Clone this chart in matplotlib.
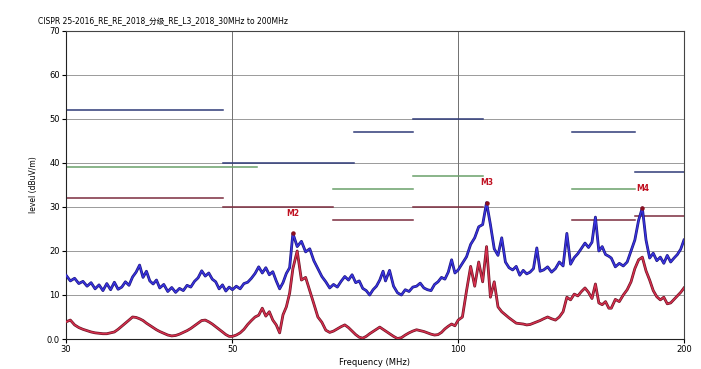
import matplotlib
matplotlib.use("Agg")
import matplotlib.pyplot as plt
from matplotlib.ticker import FixedLocator, NullLocator

plt.rcParams["font.family"] = ["DejaVu Sans", "Noto Sans CJK SC"]

title = "CISPR 25-2016_RE_RE_2018_分级_RE_L3_2018_30MHz to 200MHz"

# Messfrequenzen (MHz)
trace_freq = [
    30.0, 30.4, 30.8, 31.2, 31.6, 32.0, 32.4, 32.8, 33.2, 33.6, 34.0, 34.4, 34.8,
    35.2, 35.6, 36.0, 36.4, 36.8, 37.2, 37.6, 38.0, 38.4, 38.8, 39.2, 39.6,
    40.0, 40.5, 41.0, 41.5, 42.0, 42.5, 43.0, 43.5, 44.0, 44.5, 45.0, 45.5,
    46.0, 46.5, 47.0, 47.5, 48.0, 48.5, 49.0, 49.5,
    50.0, 50.6, 51.2, 51.8, 52.4, 53.0, 53.6, 54.2, 54.8, 55.4, 56.0, 56.6,
    57.2, 57.8, 58.4, 59.0, 59.6,
    60.2, 61.0, 61.8, 62.6, 63.4, 64.2, 65.0, 65.8, 66.6, 67.4, 68.2, 69.0,
    69.8, 70.6, 71.4, 72.2, 73.0, 73.8, 74.6, 75.4, 76.2, 77.0, 77.8, 78.6, 79.4,
    80, 81, 82, 83, 84, 85, 86, 87, 88, 89, 90, 91, 92, 93, 94, 95, 96, 97, 98, 99,
    100.0, 101.3, 102.6, 103.9, 105.2, 106.5, 107.8, 109.1, 110.4, 111.7, 113.0,
    114.3, 115.6, 116.9, 118.2, 119.5, 120.8, 122.1, 123.4, 124.7, 126.0, 127.3, 128.6,
    130.0, 131.6, 133.2, 134.8, 136.4, 138.0, 139.6, 141.2, 142.8, 144.4, 146.0,
    147.6, 149.2, 150.8, 152.4, 154.0, 155.6, 157.2, 158.8,
    160, 162, 164, 166, 168, 170, 172, 174, 176, 178, 180, 182, 184, 186, 188,
    190, 192, 194, 196, 198, 200,
]

# Peak (blau)
peak_level = [
    14.5, 13.2, 13.8, 12.6, 13.1, 12.0, 12.8, 11.4, 12.3, 11.0, 12.6, 11.2, 12.9,
    11.3, 11.8, 13.0, 12.2, 14.1, 15.2, 16.8, 14.0, 15.4, 13.2, 12.5, 13.4,
    11.6, 12.4, 10.8, 11.7, 10.6, 11.5, 11.0, 12.2, 11.8, 13.1, 13.9, 15.5,
    14.3, 15.0, 13.6, 13.0, 11.4, 12.3, 10.9, 11.8,
    11.2, 12.0, 11.4, 12.6, 12.9, 13.8, 14.9, 16.4, 15.0, 16.2, 14.6, 15.3,
    13.2, 11.4, 12.8, 14.9, 16.2,
    24.0, 21.0, 22.2, 19.8, 20.5, 17.8, 16.0, 14.2, 13.0, 11.6, 12.4, 11.8,
    13.1, 14.2, 13.4, 14.6, 12.8, 13.2, 11.5, 11.0, 10.0, 11.2, 12.0, 13.4, 15.4,
    13.2, 15.6, 12.0, 10.5, 10.0, 11.2, 10.8, 11.8, 12.0, 12.7, 11.6, 11.2, 11.0,
    12.4, 13.0, 14.0, 13.6, 15.2, 18.0, 15.0,
    15.7, 17.2, 18.7, 21.5, 23.0, 25.5, 26.0, 31.0, 26.0, 20.5, 19.0,
    23.0, 17.5, 16.2, 15.7, 16.5, 14.5, 15.6, 14.8, 15.2, 16.0, 20.7, 15.4,
    15.7, 16.4, 15.2, 16.0, 17.5, 16.6, 24.0, 17.0, 18.5, 19.4, 20.6,
    21.8, 20.8, 22.0, 27.7, 20.0, 21.0, 19.2, 18.8,
    18.4, 16.4, 17.2, 16.6, 17.5, 20.0, 22.5, 27.0, 29.8, 22.5, 18.4, 19.5, 17.8,
    18.6, 17.2, 19.0, 17.5, 18.4, 19.2, 20.4, 22.5,
]

# Average (rot)
avg_level = [
    3.9, 4.3, 3.2, 2.6, 2.2, 1.9, 1.6, 1.4, 1.3, 1.2, 1.2, 1.4, 1.6,
    2.2, 2.9, 3.6, 4.3, 5.0, 4.9, 4.6, 4.2, 3.6, 3.1, 2.6, 2.1,
    1.7, 1.3, 0.9, 0.7, 0.8, 1.1, 1.5, 1.9, 2.4, 3.0, 3.6, 4.2,
    4.3, 3.9, 3.4, 2.8, 2.2, 1.6, 1.0, 0.6,
    0.6, 0.9, 1.4, 2.2, 3.3, 4.2, 5.0, 5.4, 7.0, 5.2, 6.2, 4.3,
    3.2, 1.4, 5.5, 7.3, 10.4,
    16.0, 20.0, 13.4, 14.0, 11.0, 8.0, 5.0, 3.8, 2.0, 1.5, 1.8, 2.3,
    2.8, 3.2, 2.6, 1.8, 1.0, 0.4, 0.2, 0.6, 1.2, 1.7, 2.2, 2.7, 2.2,
    1.8, 1.2, 0.6, 0.1, 0.3, 0.9, 1.4, 1.8, 2.1, 1.9, 1.7, 1.4, 1.1,
    0.9, 1.0, 1.5, 2.3, 2.9, 3.4, 3.0,
    4.3, 5.0, 11.0, 16.5, 12.0, 17.5, 13.0, 21.0, 9.5, 13.0, 7.3,
    6.2, 5.5, 4.8, 4.2, 3.6, 3.5, 3.4, 3.2, 3.3, 3.6, 3.9, 4.2,
    4.6, 5.0, 4.6, 4.3, 5.0, 6.2, 9.5, 8.9, 10.2, 9.8, 10.8,
    11.6, 10.6, 9.2, 12.5, 8.2, 7.8, 8.5, 7.0,
    7.0, 9.0, 8.5, 10.0, 11.2, 13.0, 16.0, 18.0, 18.6, 15.5, 13.4, 11.0, 9.6,
    8.9, 9.5, 8.0, 8.2, 9.0, 9.8, 10.6, 11.6,
]

# Grenzwerte: (f_start, f_stop, Pegel)
limit_peak = [(30, 48.6, 52), (48.6, 72.6, 40), (72.6, 87, 47), (87, 108, 50),
              (142, 172, 47), (172, 200, 38)]
limit_qp = [(30, 54, 39), (68, 87, 34), (87, 108, 37), (142, 172, 34)]
limit_avg = [(30, 48.6, 32), (48.6, 68, 30), (68, 87, 27), (87, 108, 30),
             (142, 172, 27), (172, 200, 28)]

markers = ["M2", "M3", "M4"]
marker_freq = [60.2, 109.1, 176]
marker_level = [24.0, 31.0, 29.8]

fig = plt.figure(figsize=(7.01, 3.69), dpi=100)
ax = fig.add_axes([0.0942, 0.0813, 0.8815, 0.8347])

ax.set_xscale("log")
ax.set_xlim(30, 200)
ax.set_ylim(0, 70)

for y in range(10, 70, 10):
    ax.axhline(y, color="#9a9a9a", lw=0.7, zorder=0)
for x in (50, 100):
    ax.axvline(x, color="#707070", lw=0.7, zorder=0)

for f0, f1, lv in limit_peak:
    ax.plot([f0, f1], [lv, lv], color="#2f3a78", lw=1.1, zorder=2)
for f0, f1, lv in limit_qp:
    ax.plot([f0, f1], [lv, lv], color="#6aa06a", lw=1.1, zorder=2)
for f0, f1, lv in limit_avg:
    ax.plot([f0, f1], [lv, lv], color="#7c2c3e", lw=1.1, zorder=2)

# dunkler Rand + helle Mitte wie im Original
ax.plot(trace_freq, peak_level, color="#1c1680", lw=2.0, zorder=3)
ax.plot(trace_freq, peak_level, color="#3a34e0", lw=1.0, zorder=3)
ax.plot(trace_freq, avg_level, color="#6e1426", lw=2.0, zorder=4)
ax.plot(trace_freq, avg_level, color="#d8304e", lw=1.0, zorder=4)

ax.plot(marker_freq, marker_level, "o", color="#8a0f1f", ms=2.2, zorder=5)
for name, f, lv in zip(markers, marker_freq, marker_level):
    ax.text(f, lv + 4.5, name, color="#c01020", fontsize=5.5, fontweight="bold",
            ha="center", va="center", zorder=6)

ax.xaxis.set_major_locator(FixedLocator([30, 50, 100, 200]))
ax.xaxis.set_minor_locator(NullLocator())
ax.set_xticklabels(["30", "50", "100", "200"])
ax.set_yticks(range(0, 71, 10))
ax.set_yticklabels(["0.0"] + [str(v) for v in range(10, 71, 10)])
ax.tick_params(labelsize=6, length=3, width=0.8, pad=1.5)

for s in ax.spines.values():
    s.set_linewidth(0.8)
    s.set_color("#444444")
ax.spines["left"].set_color("#222222")
ax.spines["bottom"].set_color("#222222")

ax.set_xlabel("Frequency (MHz)", fontsize=6, labelpad=3)
ax.set_ylabel("level (dBuV/m)", fontsize=5.5, labelpad=6)

fig.text(0.054, 0.945, title, fontsize=5.5, ha="left", va="center")

fig.savefig("out.png", dpi=100)
